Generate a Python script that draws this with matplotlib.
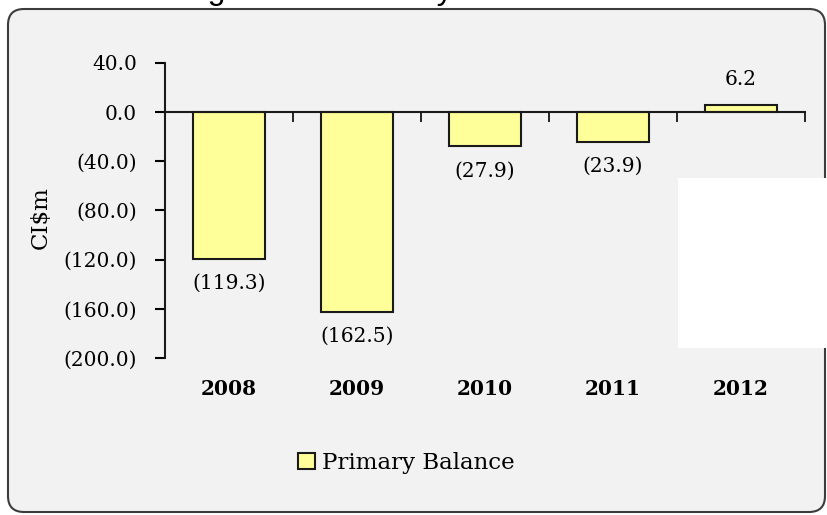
import matplotlib.pyplot as plt
from matplotlib.patches import FancyBboxPatch, Rectangle

years = ["2008", "2009", "2010", "2011", "2012"]
balance = [-119.3, -162.5, -27.9, -23.9, 6.2]
yticks = [40, 0, -40, -80, -120, -160, -200]


def fmt(v):
    # accounting style: negatives in brackets
    return "(%.1f)" % abs(v) if v < 0 else "%.1f" % v


serif = "DejaVu Serif"
fs = 14.5

fig = plt.figure(figsize=(8.28, 5.15), dpi=100, facecolor="white")

# grey rounded panel behind the chart
panel = FancyBboxPatch((8, 3), 817, 503, boxstyle="round,pad=0,rounding_size=16",
                       transform=None, facecolor="#f2f2f2", edgecolor="#3c3c3c",
                       linewidth=1.5, zorder=-1)
fig.add_artist(panel)

# title runs off the top edge of the page
fig.text(181 / 828, 1 + 1 / 515, "Figure 3.1: Primary Fiscal Balance",
         family="Liberation Sans", fontsize=23, ha="left", va="baseline")

ax = fig.add_axes([165 / 828, 1 - 358 / 515, 640 / 828, 295 / 515])
ax.set_facecolor("none")

x = list(range(len(years)))
bars = ax.bar(x, balance, width=0.57, color="#ffff99", edgecolor="#1a1a1a",
              linewidth=1.5, zorder=2)

for xi, v in zip(x, balance):
    off = 11 if v > 0 else -11
    ax.annotate(fmt(v), (xi, v), xytext=(0, off), textcoords="offset points",
                ha="center", va="bottom" if v > 0 else "top",
                family=serif, fontsize=fs)

ax.set_xlim(-0.5, 4.5)
ax.set_ylim(-200, 40)
ax.set_yticks(yticks)
ax.set_yticklabels([fmt(t) for t in yticks], family=serif, fontsize=fs)
ax.set_xticks([0.5, 1.5, 2.5, 3.5, 4.5])
ax.set_xticklabels([])

ax.spines["top"].set_visible(False)
ax.spines["right"].set_visible(False)
ax.spines["bottom"].set_position(("data", 0))
for s in ("left", "bottom"):
    ax.spines[s].set_linewidth(1.5)
    ax.spines[s].set_color("#1a1a1a")
ax.tick_params(axis="y", direction="out", length=7, width=1.5, pad=13)
ax.tick_params(axis="x", direction="out", length=7, width=1.2)

# year labels sit below the plot area, not at the zero line
for xi, yr in zip(x, years):
    ax.text(xi, -0.105, yr, transform=ax.get_xaxis_transform(), ha="center",
            va="center", family=serif, fontsize=fs, fontweight="bold")

fig.text(41 / 828, 1 - 218 / 515, "CI\\$m", rotation=90, ha="center", va="center",
         family=serif, fontsize=16.5)

fig.legend([bars], ["Primary Balance"], loc="center",
           bbox_to_anchor=(406 / 828, 1 - 463 / 515), frameon=False,
           prop={"family": serif, "size": 16.5}, handlelength=0.75,
           handleheight=0.75, handletextpad=0.3)

fig.add_artist(Rectangle((678, 515 - 348), 160, 170, transform=None,
                         facecolor="white", edgecolor="none", zorder=5))

fig.savefig("out.png", dpi=100)
